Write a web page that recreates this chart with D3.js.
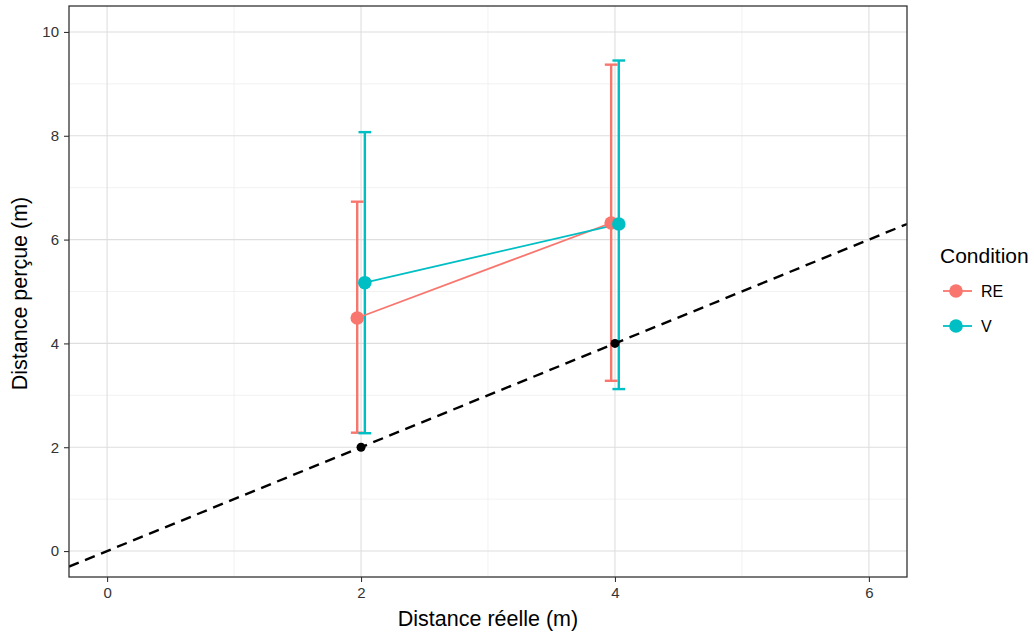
<!DOCTYPE html>
<html>
<head>
<meta charset="utf-8">
<script src="https://cdn.jsdelivr.net/npm/d3@7"></script>
<style>
  body { margin: 0; background: #fff; }
  svg { display: block; font-family: "Liberation Sans", Arial, sans-serif; }
</style>
</head>
<body>
<svg id="chart" width="1034" height="633"></svg>
<script>
// Real distance (m) at which each condition was measured
const distances = [2, 4];
const conditions = ["RE", "V"];
const colors = ["#F8766D", "#00BFC4"];

// Mean perceived distance and error bar bounds per condition
const meanRE = [4.49, 6.32];
const lowRE  = [2.28, 3.28];
const highRE = [6.73, 9.37];

const meanV = [5.17, 6.30];
const lowV  = [2.27, 3.12];
const highV = [8.07, 9.45];

// Reference points on the identity line
const refX = [2, 4];
const refY = [2, 4];

const xTicks = [0, 2, 4, 6];
const yTicks = [0, 2, 4, 6, 8, 10];
const xMinor = [1, 3, 5];
const yMinor = [1, 3, 5, 7, 9];

const dodge = 0.03;

const series = [
  { name: conditions[0], color: colors[0], mean: meanRE, low: lowRE, high: highRE, off: -dodge },
  { name: conditions[1], color: colors[1], mean: meanV, low: lowV, high: highV, off: dodge }
];

const panel = { left: 69, right: 907, top: 6, bottom: 577 };

const x = d3.scaleLinear().domain([-0.3, 6.3]).range([panel.left, panel.right]);
const y = d3.scaleLinear().domain([-0.5, 10.5]).range([panel.bottom, panel.top]);

const svg = d3.select("#chart");

// Panel background and grid
svg.append("rect")
  .attr("x", panel.left).attr("y", panel.top)
  .attr("width", panel.right - panel.left).attr("height", panel.bottom - panel.top)
  .attr("fill", "#fff");

const grid = svg.append("g");
grid.selectAll(".xminor").data(xMinor).join("line")
  .attr("x1", d => x(d)).attr("x2", d => x(d))
  .attr("y1", panel.top).attr("y2", panel.bottom)
  .attr("stroke", "#ececec").attr("stroke-width", 0.7);
grid.selectAll(".yminor").data(yMinor).join("line")
  .attr("y1", d => y(d)).attr("y2", d => y(d))
  .attr("x1", panel.left).attr("x2", panel.right)
  .attr("stroke", "#ececec").attr("stroke-width", 0.7);
grid.selectAll(".xmajor").data(xTicks).join("line")
  .attr("x1", d => x(d)).attr("x2", d => x(d))
  .attr("y1", panel.top).attr("y2", panel.bottom)
  .attr("stroke", "#dedede").attr("stroke-width", 1.1);
grid.selectAll(".ymajor").data(yTicks).join("line")
  .attr("y1", d => y(d)).attr("y2", d => y(d))
  .attr("x1", panel.left).attr("x2", panel.right)
  .attr("stroke", "#dedede").attr("stroke-width", 1.1);

svg.append("clipPath").attr("id", "clip")
  .append("rect")
  .attr("x", panel.left).attr("y", panel.top)
  .attr("width", panel.right - panel.left).attr("height", panel.bottom - panel.top);

const plot = svg.append("g").attr("clip-path", "url(#clip)");

// Error bars
const capHalf = 0.05;
series.forEach(s => {
  const g = plot.append("g").attr("stroke", s.color).attr("stroke-width", 2.4).attr("fill", "none");
  distances.forEach((d, i) => {
    const cx = x(d + s.off);
    g.append("line").attr("x1", cx).attr("x2", cx)
      .attr("y1", y(s.low[i])).attr("y2", y(s.high[i]));
    g.append("line").attr("x1", x(d + s.off - capHalf)).attr("x2", x(d + s.off + capHalf))
      .attr("y1", y(s.low[i])).attr("y2", y(s.low[i]));
    g.append("line").attr("x1", x(d + s.off - capHalf)).attr("x2", x(d + s.off + capHalf))
      .attr("y1", y(s.high[i])).attr("y2", y(s.high[i]));
  });
});

// Lines joining the means
const line = d3.line().x(d => x(d[0])).y(d => y(d[1]));
series.forEach(s => {
  plot.append("path")
    .datum(distances.map((d, i) => [d + s.off, s.mean[i]]))
    .attr("d", line)
    .attr("fill", "none").attr("stroke", s.color).attr("stroke-width", 1.8);
});

// Mean points
series.forEach(s => {
  plot.selectAll(null).data(distances).join("circle")
    .attr("cx", (d, i) => x(d + s.off))
    .attr("cy", (d, i) => y(s.mean[i]))
    .attr("r", 6.8)
    .attr("fill", s.color);
});

// Identity line y = x
plot.append("line")
  .attr("x1", x(-0.3)).attr("y1", y(-0.3))
  .attr("x2", x(6.3)).attr("y2", y(6.3))
  .attr("stroke", "#000").attr("stroke-width", 2.4)
  .attr("stroke-dasharray", "10.5,6.8");

plot.selectAll(null).data(refX).join("circle")
  .attr("cx", d => x(d))
  .attr("cy", (d, i) => y(refY[i]))
  .attr("r", 4.5)
  .attr("fill", "#000");

// Panel border
svg.append("rect")
  .attr("x", panel.left).attr("y", panel.top)
  .attr("width", panel.right - panel.left).attr("height", panel.bottom - panel.top)
  .attr("fill", "none").attr("stroke", "#333").attr("stroke-width", 1.3);

// Axes
const xAxis = svg.append("g")
  .attr("transform", `translate(0,${panel.bottom})`)
  .call(d3.axisBottom(x).tickValues(xTicks).tickSize(5).tickPadding(5).tickFormat(d3.format("d")));
const yAxis = svg.append("g")
  .attr("transform", `translate(${panel.left},0)`)
  .call(d3.axisLeft(y).tickValues(yTicks).tickSize(5).tickPadding(5).tickFormat(d3.format("d")));
[xAxis, yAxis].forEach(a => {
  a.select(".domain").remove();
  a.attr("font-size", null).attr("font-family", null);
  a.selectAll(".tick line").attr("stroke", "#333").attr("stroke-width", 1.1);
  a.selectAll(".tick text").attr("fill", "#333").style("font-size", "15px");
});

// Axis titles
svg.append("text")
  .attr("x", 488).attr("y", 626)
  .attr("text-anchor", "middle").style("font-size", "21.5px").attr("fill", "#000")
  .text("Distance réelle (m)");
svg.append("text")
  .attr("transform", `translate(27,${(panel.top + panel.bottom) / 2 + 2}) rotate(-90)`)
  .attr("text-anchor", "middle").style("font-size", "21.5px").attr("fill", "#000")
  .text("Distance perçue (m)");

// Legend
const legend = svg.append("g").attr("transform", "translate(940,0)");
legend.append("text").attr("x", 0).attr("y", 263)
  .style("font-size", "21px").attr("fill", "#000").text("Condition");
series.forEach((s, i) => {
  const cy = 291 + i * 35;
  legend.append("line").attr("x1", 3).attr("x2", 32).attr("y1", cy).attr("y2", cy)
    .attr("stroke", s.color).attr("stroke-width", 1.8);
  legend.append("circle").attr("cx", 16).attr("cy", cy).attr("r", 6.8).attr("fill", s.color);
  legend.append("text").attr("x", 41).attr("y", cy + 6)
    .style("font-size", "16px").attr("fill", "#000").text(s.name);
});
</script>
</body>
</html>
